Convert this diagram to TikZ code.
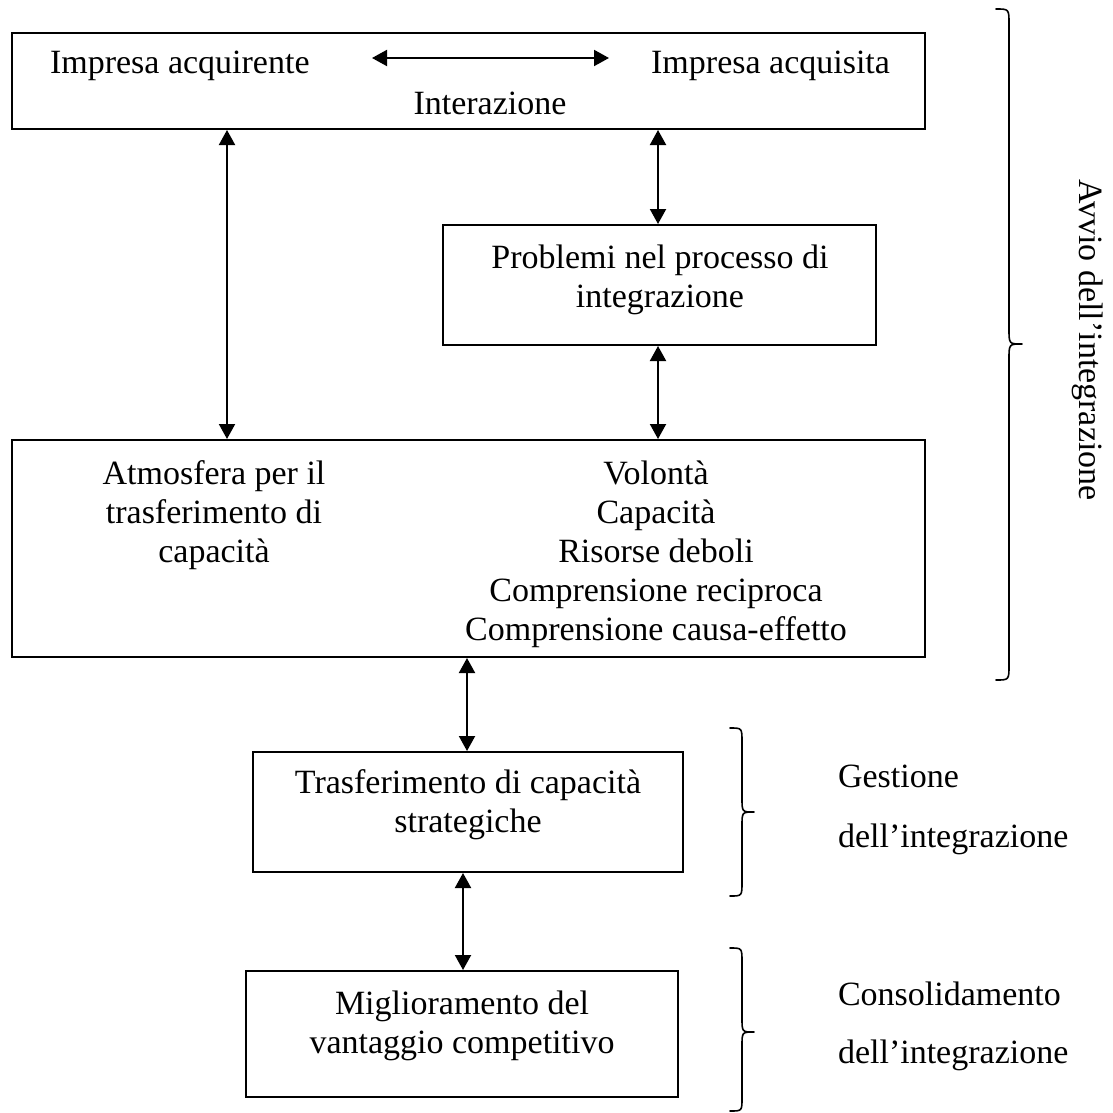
\documentclass[tikz,border=0pt]{standalone}
\usepackage{fontspec}
\setmainfont{Liberation Serif}
\usetikzlibrary{arrows.meta}

% stacked, centred lines whose reference point is the first baseline
\newcommand{\txtlines}[1]{\begin{tabular}[t]{@{}c@{}}#1\end{tabular}}
\newcommand{\txtleft}[1]{\begin{tabular}[t]{@{}l@{}}#1\end{tabular}}

\tikzset{
  box/.style={draw, line width=2pt, rectangle, inner sep=0pt, fill=white},
  lbl/.style={inner sep=0pt, outer sep=0pt, anchor=base},
  arr/.style={line width=2pt, {Triangle[length=15pt,width=16pt]}-{Triangle[length=15pt,width=16pt]}},
  bracestyle/.style={line width=1.6pt, line cap=round, line join=round}
}

\begin{document}
\begin{tikzpicture}[x=1pt, y=-1pt, font=\fontsize{34}{39}\selectfont]
\useasboundingbox (0,0) rectangle (1113,1113);

% ---- boxes ----
\node[box, minimum width=913, minimum height=96]  (top)   at (468.5,81)   {};
\node[box, minimum width=433, minimum height=120] (prob)  at (659.5,285)  {};
\node[box, minimum width=913, minimum height=217] (big)   at (468.5,548.5){};
\node[box, minimum width=430, minimum height=120] (trasf) at (468,812)    {};
\node[box, minimum width=432, minimum height=126] (migl)  at (462,1034)   {};

% ---- texts in the boxes ----
\node[lbl, anchor=base west] (acq1) at (50,74)  {Impresa acquirente};
\node[lbl, anchor=base east] (acq2) at (890,74) {Impresa acquisita};
\node[lbl] (inter) at (490,115) {Interazione};
\node[lbl] (probt) at (660,268) {\txtlines{Problemi nel processo di\\integrazione}};
\node[lbl] (atm) at (214,484) {\txtlines{Atmosfera per il\\trasferimento di\\capacità}};
\node[lbl] (vol) at (656,484) {\txtlines{Volontà\\Capacità\\Risorse deboli\\Comprensione reciproca\\Comprensione causa-effetto}};
\node[lbl] (trasft) at (468,793) {\txtlines{Trasferimento di capacità\\strategiche}};
\node[lbl] (miglt) at (462,1014) {\txtlines{Miglioramento del\\vantaggio competitivo}};

% ---- connectors ----
\coordinate (hL) at (372,58);
\coordinate (hR) at (609,58);
\draw[arr] (hL) -- (hR);

\coordinate (xL) at (227,0);
\coordinate (xR) at (658,0);
\coordinate (xD1) at (467,0);
\coordinate (xD2) at (463,0);
\draw[arr] (xL |- top.south) -- (xL |- big.north);
\draw[arr] (xR |- top.south) -- (xR |- prob.north);
\draw[arr] (xR |- prob.south) -- (xR |- big.north);
\draw[arr] (xD1 |- big.south) -- (xD1 |- trasf.north);
\draw[arr] (xD2 |- trasf.south) -- (xD2 |- migl.north);

% ---- braces and phase labels ----
\draw[bracestyle] (996,9) .. controls (1009,9) .. (1009,24) -- (1009,329)
  .. controls (1009,344) .. (1022,344) .. controls (1009,344) .. (1009,359)
  -- (1009,665) .. controls (1009,680) .. (996,680);
\node[inner sep=0pt, rotate=-90] (avvio) at (1088,340) {Avvio dell’integrazione};

\draw[bracestyle] (730,728) .. controls (742,728) .. (742,742) -- (742,798)
  .. controls (742,812) .. (754,812) .. controls (742,812) .. (742,826)
  -- (742,882) .. controls (742,896) .. (730,896);
\node[lbl, anchor=base west] (gest) at (838,787) {\txtleft{Gestione\\[21pt]dell’integrazione}};

\draw[bracestyle] (730,948) .. controls (742,948) .. (742,962) -- (742,1018)
  .. controls (742,1032) .. (754,1032) .. controls (742,1032) .. (742,1046)
  -- (742,1098) .. controls (742,1111) .. (730,1111);
\node[lbl, anchor=base west] (cons) at (838,1005) {\txtleft{Consolidamento\\[19pt]dell’integrazione}};
\end{tikzpicture}
\end{document}
